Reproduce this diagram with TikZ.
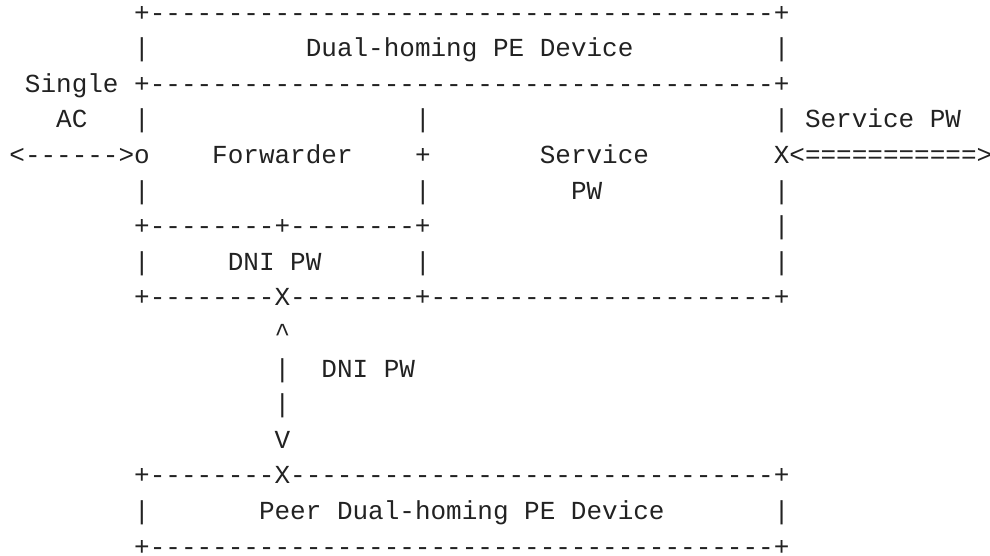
\documentclass[tikz,border=0pt]{standalone}
\usepackage{fontspec}
\setmonofont{Liberation Mono}
\definecolor{ink}{RGB}{34,34,34}
\tikzset{ascii/.style={anchor=base west, inner sep=0pt, outer sep=0pt, text=ink,
    font=\ttfamily\fontsize{19.5pt}{26pt}\selectfont}}
\begin{document}
\begin{tikzpicture}[x=11.7pt, y=-26.7pt]
  \useasboundingbox (-0.6026,-0.5927) rectangle (62.859,15.025);
  % dual-homing PE device
  \node[ascii] (topline) at (8,0) {+----------------------------------------+};
  \node[ascii] (pe) at (19,1) {Dual-homing PE Device};
  \node[ascii] (single) at (1,2) {Single};
  \node[ascii] (midline) at (8,2) {+----------------------------------------+};
  \node[ascii] (ac) at (3,3) {AC};
  \node[ascii] (svclabel) at (51,3) {Service PW};
  \node[ascii] (acarrow) at (0,4) {<------>o};
  \node[ascii] (fwd) at (13,4) {Forwarder};
  \node[ascii] (fwdplus) at (26,4) {+};
  \node[ascii] (svc) at (34,4) {Service};
  \node[ascii] (svcarrow) at (49,4) {X<===========>};
  \node[ascii] (svcpw) at (36,5) {PW};
  \node[ascii] (fwdline) at (8,6) {+--------+--------+};
  \node[ascii] (dni) at (14,7) {DNI PW};
  \node[ascii] (dniline) at (8,8) {+--------X--------+----------------------+};
  % DNI PW between the two devices
  \node[ascii] (up) at (17,9) {\textasciicircum};
  \node[ascii] (dnilabel) at (20,10) {DNI PW};
  \node[ascii] (down) at (17,12) {V};
  % peer device
  \node[ascii] (peerline) at (8,13) {+--------X-------------------------------+};
  \node[ascii] (peer) at (16,14) {Peer Dual-homing PE Device};
  \node[ascii] (botline) at (8,15) {+----------------------------------------+};
  % vertical bars
  \foreach \r in {1,3,5,7,14}
    \node[ascii] (lbar\r) at (8,\r) {|};
  \foreach \r in {3,5,7}
    \node[ascii] (cbar\r) at (26,\r) {|};
  \foreach \r in {1,3,5,6,7,14}
    \node[ascii] (rbar\r) at (49,\r) {|};
  \foreach \r in {10,11}
    \node[ascii] (vbar\r) at (17,\r) {|};
\end{tikzpicture}
\end{document}
